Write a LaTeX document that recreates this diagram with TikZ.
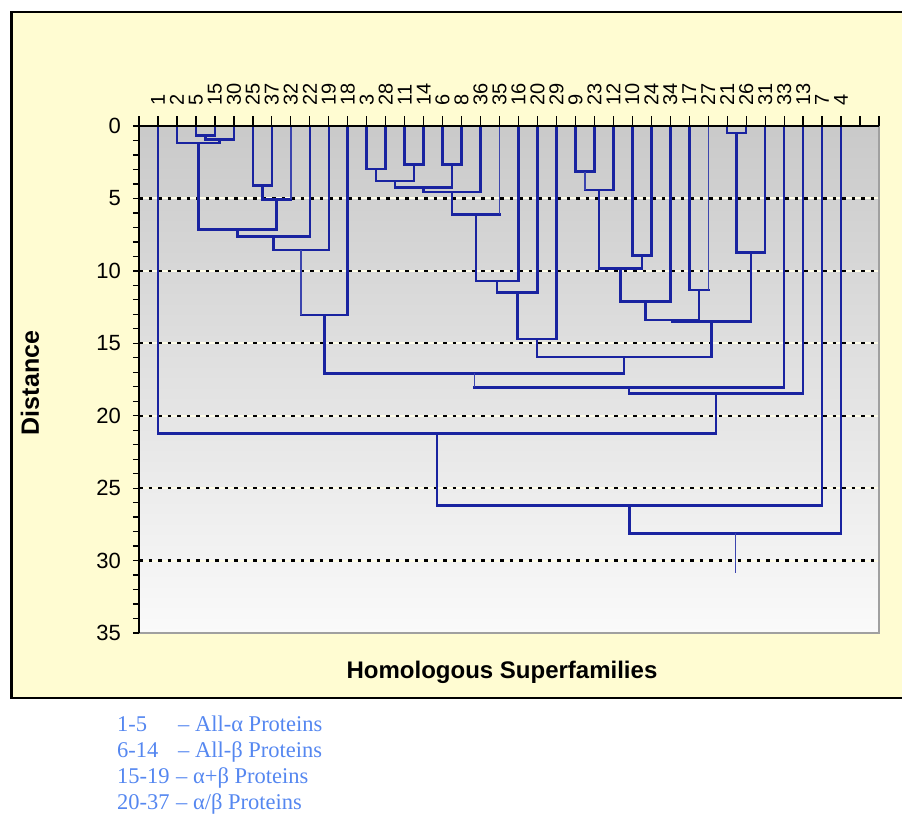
\documentclass[tikz,border=0pt]{standalone}
\usepackage{fontspec}
\setmainfont{Liberation Sans}
\newfontfamily\legendfont{Liberation Serif}
\definecolor{chartbg}{RGB}{255,252,210}
\definecolor{dendro}{RGB}{25,35,160}
\definecolor{plotedge}{RGB}{160,160,160}
\definecolor{legendblue}{RGB}{85,135,240}

\begin{document}
\begin{tikzpicture}[x=1pt,y=-1pt,
  branch/.style={dendro,line width=2.5pt,line cap=rect,line join=miter},
  thinbranch/.style={dendro!85!white,line width=1.5pt},
  dotline/.style={line width=2.2pt,dash pattern=on 3.5pt off 6pt},
  ticklab/.style={font=\fontsize{20}{20}\selectfont,inner sep=0pt},
  legend/.style={legendblue,font=\legendfont\fontsize{22.5}{22.5}\selectfont,inner sep=0pt,anchor=base west}]
  \useasboundingbox (0,0) rectangle (902,815);
  % chart frame
  \fill[chartbg] (11.3,12) rectangle (910,698);
  \draw[line width=2.7pt] (910,12) -- (11.3,12) -- (11.3,698) -- (910,698);
  \shade[top color=black!21,bottom color=black!2] (139,126) rectangle (879,633);
  \begin{scope}[shift={(139,126)},x=18.975pt,y=-14.486pt]
    % grid
    \foreach \d in {5,10,...,30} {
      \draw[chartbg!50!white,line width=2pt] (0,\d) -- (39,\d);
      \draw[dotline] (0,\d) -- (39,\d);
    }
    % dendrogram
    \foreach \xa/\da/\xb/\db/\d in {3/0/4/0/0.67, 3.5/0.67/5/0/0.92, 2/0/4.25/0.92/1.19,
        6/0/7/0/4.12, 3.125/1.19/7.25/5.06/7.13, 5.188/7.13/9/0/7.64, 7.094/7.64/10/0/8.56,
        12/0/13/0/2.97, 14/0/15/0/2.64, 12.5/2.97/14.5/2.64/3.78, 16/0/17/0/2.64,
        13.5/3.78/16.5/2.64/4.26, 15/4.26/18/0/4.54, 17.75/6.10/20/0/10.70,
        18.875/10.70/21/0/11.51, 19.938/11.51/22/0/14.72, 23/0/24/0/3.15,
        26/0/27/0/8.95, 24.25/4.42/26.5/8.95/9.82, 25.375/9.82/28/0/12.13,
        26.688/12.13/29.5/11.32/13.39, 31/0/32/0/0.5, 31.5/0.5/33/0/8.72,
        28.094/13.39/32.25/8.72/13.51, 20.969/14.72/30.172/13.51/15.93,
        9.773/13.05/25.570/15.93/17.07, 25.836/18.04/35/0/18.45,
        1/0/30.418/18.45/21.21, 15.709/21.21/36/0/26.21, 25.854/26.21/37/0/28.12}
      \draw[branch] (\xa,\da) |- (\xb,\d) -- (\xb,\db);
    \draw[branch] (6.5,4.12) |- (8,5.06);
    \draw[thinbranch] (8,0) -- (8,5.06);
    \draw[branch] (11,0) |- (8.547,13.05);
    \draw[thinbranch] (8.547,8.56) -- (8.547,13.05);
    \draw[branch] (16.5,4.54) |- (19,6.10);
    \draw[thinbranch] (19,0) -- (19,6.10);
    \draw[branch] (25,0) |- (23.5,4.42);
    \draw[thinbranch] (23.5,3.15) -- (23.5,4.42);
    \draw[branch] (29,0) |- (30,11.32);
    \draw[thinbranch] (30,0) -- (30,11.32);
    \draw[branch] (34,0) |- (17.672,18.04);
    \draw[thinbranch] (17.672,17.07) -- (17.672,18.04);
    \draw[thinbranch] (31.427,28.12) -- (31.427,30.88);
    % axes
    \draw[plotedge,line width=2.6pt] (0,35) -- (39,35) -- (39,0);
    \draw[line width=2pt] (0,35) -- (0,0) -- (39,0);
    \foreach \i in {0,...,39}
      \draw[line width=1.3pt] (\i,0) -- (\i,-0.7);
    \foreach \d in {0,...,35}
      \draw[line width=1.3pt] (-0.32,\d) -- (0,\d);
    \foreach \lab [count=\i] in {1,2,5,15,30,25,37,32,22,19,18,3,28,11,14,6,8,36,35,16,20,29,9,23,12,10,24,34,17,27,21,26,31,33,13,7,4}
      \node[ticklab,rotate=90,anchor=west] (leaf\i) at (\i,-1.4) {\lab};
    \foreach \d in {0,5,...,35}
      \node[anchor=east,inner sep=0pt,font=\fontsize{22}{22}\selectfont] (dist\d) at (-0.95,\d) {\d};
  \end{scope}
  \node[rotate=90,font=\bfseries\fontsize{25}{25}\selectfont] (ytitle) at (30,383) {Distance};
  \node[font=\bfseries\fontsize{24}{24}\selectfont] (xtitle) at (502,672) {Homologous Superfamilies};
  % legend
  \node[legend] (rng1) at (117,731) {1-5};
  \node[legend] (cls1) at (178,731) {– All-α Proteins};
  \node[legend] (rng2) at (117,757.5) {6-14};
  \node[legend] (cls2) at (178,757.5) {– All-β Proteins};
  \node[legend] (rng3) at (117,783.5) {15-19};
  \node[legend] (cls3) at (176,783.5) {– α+β Proteins};
  \node[legend] (rng4) at (117,809) {20-37};
  \node[legend] (cls4) at (176,809) {– α/β Proteins};
\end{tikzpicture}
\end{document}
